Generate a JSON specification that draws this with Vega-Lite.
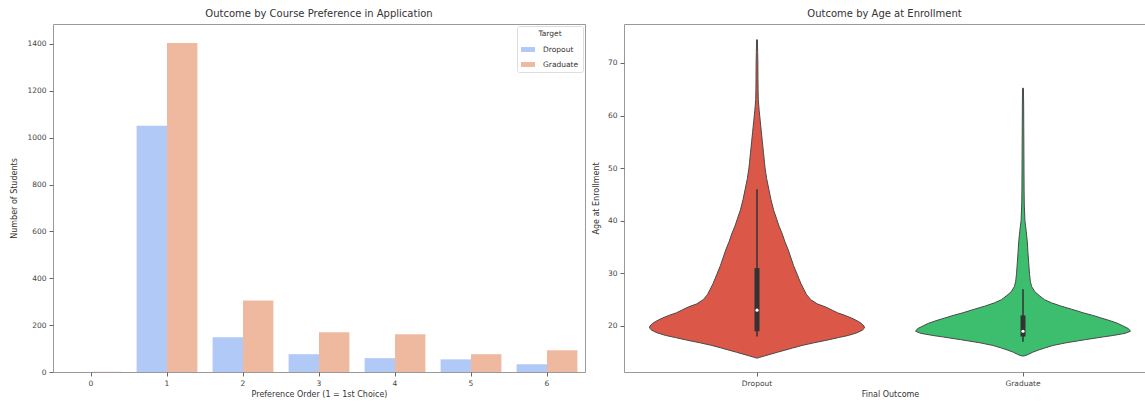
{
  "$schema": "https://vega.github.io/schema/vega-lite/v6.json",
  "padding": {"left": 10, "top": 8, "right": 0, "bottom": 0},
  "background": "white",
  "config": {
    "font": "DejaVu Sans",
    "view": {"stroke": "#999", "strokeWidth": 1},
    "axis": {"labelFont": "DejaVu Sans", "titleFont": "DejaVu Sans", "labelFontSize": 7.5, "titleFontSize": 8, "titleFontWeight": "normal", "labelColor": "#444", "titleColor": "#333", "tickColor": "#666", "domain": false, "tickSize": 4, "labelPadding": 3, "grid": false},
    "title": {"fontSize": 10, "fontWeight": "normal", "color": "#333", "font": "DejaVu Sans", "offset": 5},
    "legend": {"labelFont": "DejaVu Sans", "titleFont": "DejaVu Sans"},
    "concat": {"spacing": 6}
  },
  "resolve": {"legend": {"color": "independent"}},
  "datasets": {
    "prefs": [
      {"pref": 0, "Target": "Dropout", "count": 0},
      {"pref": 0, "Target": "Graduate", "count": 1},
      {"pref": 1, "Target": "Dropout", "count": 1051},
      {"pref": 1, "Target": "Graduate", "count": 1404},
      {"pref": 2, "Target": "Dropout", "count": 148},
      {"pref": 2, "Target": "Graduate", "count": 305},
      {"pref": 3, "Target": "Dropout", "count": 76},
      {"pref": 3, "Target": "Graduate", "count": 170},
      {"pref": 4, "Target": "Dropout", "count": 59},
      {"pref": 4, "Target": "Graduate", "count": 161},
      {"pref": 5, "Target": "Dropout", "count": 54},
      {"pref": 5, "Target": "Graduate", "count": 76},
      {"pref": 6, "Target": "Dropout", "count": 33},
      {"pref": 6, "Target": "Graduate", "count": 93}
    ],
    "violin": [
      {"outcome": "Dropout", "age": 13.9, "density": 0.005},
      {"outcome": "Dropout", "age": 14.0, "density": 0.02},
      {"outcome": "Dropout", "age": 14.3, "density": 0.07},
      {"outcome": "Dropout", "age": 14.6, "density": 0.12},
      {"outcome": "Dropout", "age": 15.0, "density": 0.19},
      {"outcome": "Dropout", "age": 15.4, "density": 0.26},
      {"outcome": "Dropout", "age": 15.8, "density": 0.33},
      {"outcome": "Dropout", "age": 16.3, "density": 0.42},
      {"outcome": "Dropout", "age": 16.8, "density": 0.53},
      {"outcome": "Dropout", "age": 17.3, "density": 0.65},
      {"outcome": "Dropout", "age": 17.8, "density": 0.76},
      {"outcome": "Dropout", "age": 18.2, "density": 0.85},
      {"outcome": "Dropout", "age": 18.7, "density": 0.93},
      {"outcome": "Dropout", "age": 19.2, "density": 0.98},
      {"outcome": "Dropout", "age": 19.6, "density": 1.0},
      {"outcome": "Dropout", "age": 20.0, "density": 0.995},
      {"outcome": "Dropout", "age": 20.5, "density": 0.97},
      {"outcome": "Dropout", "age": 21.0, "density": 0.93},
      {"outcome": "Dropout", "age": 21.5, "density": 0.88},
      {"outcome": "Dropout", "age": 22.0, "density": 0.82},
      {"outcome": "Dropout", "age": 22.5, "density": 0.75},
      {"outcome": "Dropout", "age": 23.0, "density": 0.70},
      {"outcome": "Dropout", "age": 23.6, "density": 0.64},
      {"outcome": "Dropout", "age": 24.2, "density": 0.56},
      {"outcome": "Dropout", "age": 25.0, "density": 0.50},
      {"outcome": "Dropout", "age": 26.0, "density": 0.46},
      {"outcome": "Dropout", "age": 27.0, "density": 0.435},
      {"outcome": "Dropout", "age": 28.0, "density": 0.41},
      {"outcome": "Dropout", "age": 29.0, "density": 0.39},
      {"outcome": "Dropout", "age": 30.0, "density": 0.37},
      {"outcome": "Dropout", "age": 31.5, "density": 0.34},
      {"outcome": "Dropout", "age": 33.0, "density": 0.315},
      {"outcome": "Dropout", "age": 34.5, "density": 0.29},
      {"outcome": "Dropout", "age": 36.0, "density": 0.26},
      {"outcome": "Dropout", "age": 37.5, "density": 0.235},
      {"outcome": "Dropout", "age": 39.0, "density": 0.205},
      {"outcome": "Dropout", "age": 40.5, "density": 0.18},
      {"outcome": "Dropout", "age": 42.0, "density": 0.155},
      {"outcome": "Dropout", "age": 44.0, "density": 0.13},
      {"outcome": "Dropout", "age": 46.0, "density": 0.11},
      {"outcome": "Dropout", "age": 48.0, "density": 0.09},
      {"outcome": "Dropout", "age": 50.0, "density": 0.075},
      {"outcome": "Dropout", "age": 51.0, "density": 0.07},
      {"outcome": "Dropout", "age": 53.0, "density": 0.06},
      {"outcome": "Dropout", "age": 55.0, "density": 0.05},
      {"outcome": "Dropout", "age": 57.0, "density": 0.04},
      {"outcome": "Dropout", "age": 59.0, "density": 0.03},
      {"outcome": "Dropout", "age": 61.0, "density": 0.02},
      {"outcome": "Dropout", "age": 63.0, "density": 0.012},
      {"outcome": "Dropout", "age": 65.0, "density": 0.01},
      {"outcome": "Dropout", "age": 67.0, "density": 0.009},
      {"outcome": "Dropout", "age": 70.0, "density": 0.008},
      {"outcome": "Dropout", "age": 72.0, "density": 0.006},
      {"outcome": "Dropout", "age": 74.4, "density": 0.004},
      {"outcome": "Graduate", "age": 14.3, "density": 0.01},
      {"outcome": "Graduate", "age": 14.6, "density": 0.05},
      {"outcome": "Graduate", "age": 15.0, "density": 0.09},
      {"outcome": "Graduate", "age": 15.4, "density": 0.14},
      {"outcome": "Graduate", "age": 15.8, "density": 0.20},
      {"outcome": "Graduate", "age": 16.3, "density": 0.28},
      {"outcome": "Graduate", "age": 16.8, "density": 0.40},
      {"outcome": "Graduate", "age": 17.4, "density": 0.58},
      {"outcome": "Graduate", "age": 17.9, "density": 0.74},
      {"outcome": "Graduate", "age": 18.2, "density": 0.84},
      {"outcome": "Graduate", "age": 18.6, "density": 0.95},
      {"outcome": "Graduate", "age": 19.0, "density": 1.0},
      {"outcome": "Graduate", "age": 19.5, "density": 0.98},
      {"outcome": "Graduate", "age": 20.0, "density": 0.93},
      {"outcome": "Graduate", "age": 20.5, "density": 0.88},
      {"outcome": "Graduate", "age": 21.0, "density": 0.81},
      {"outcome": "Graduate", "age": 21.5, "density": 0.73},
      {"outcome": "Graduate", "age": 22.0, "density": 0.65},
      {"outcome": "Graduate", "age": 22.5, "density": 0.56},
      {"outcome": "Graduate", "age": 23.2, "density": 0.45},
      {"outcome": "Graduate", "age": 23.8, "density": 0.35},
      {"outcome": "Graduate", "age": 24.4, "density": 0.265},
      {"outcome": "Graduate", "age": 25.0, "density": 0.20},
      {"outcome": "Graduate", "age": 25.8, "density": 0.15},
      {"outcome": "Graduate", "age": 26.5, "density": 0.11},
      {"outcome": "Graduate", "age": 27.5, "density": 0.08},
      {"outcome": "Graduate", "age": 28.5, "density": 0.068},
      {"outcome": "Graduate", "age": 30.0, "density": 0.06},
      {"outcome": "Graduate", "age": 32.0, "density": 0.053},
      {"outcome": "Graduate", "age": 34.0, "density": 0.046},
      {"outcome": "Graduate", "age": 36.0, "density": 0.04},
      {"outcome": "Graduate", "age": 38.0, "density": 0.03},
      {"outcome": "Graduate", "age": 40.0, "density": 0.018},
      {"outcome": "Graduate", "age": 43.0, "density": 0.012},
      {"outcome": "Graduate", "age": 46.0, "density": 0.010},
      {"outcome": "Graduate", "age": 50.0, "density": 0.009},
      {"outcome": "Graduate", "age": 54.0, "density": 0.008},
      {"outcome": "Graduate", "age": 58.0, "density": 0.007},
      {"outcome": "Graduate", "age": 62.0, "density": 0.006},
      {"outcome": "Graduate", "age": 65.2, "density": 0.004}
    ],
    "box": [
      {"outcome": "Dropout", "lower": 18, "q1": 19, "median": 23, "q3": 31, "upper": 46},
      {"outcome": "Graduate", "lower": 17, "q1": 18, "median": 19, "q3": 22, "upper": 27}
    ]
  },
  "hconcat": [
    {
      "title": "Outcome by Course Preference in Application",
      "width": 532,
      "height": 348,
      "data": {"name": "prefs"},
      "mark": {"type": "bar"},
      "encoding": {
        "x": {"field": "pref", "type": "ordinal", "title": "Preference Order (1 = 1st Choice)",
              "scale": {"paddingInner": 0.2, "paddingOuter": 0.1},
              "axis": {"labelAngle": 0, "titlePadding": 4}},
        "xOffset": {"field": "Target", "type": "nominal", "scale": {"paddingInner": 0, "paddingOuter": 0}},
        "y": {"field": "count", "type": "quantitative", "title": "Number of Students",
              "scale": {"domain": [0, 1485], "nice": false},
              "axis": {"values": [0, 200, 400, 600, 800, 1000, 1200, 1400], "format": "d", "titlePadding": 8}},
        "color": {"field": "Target", "type": "nominal",
                  "scale": {"domain": ["Dropout", "Graduate"], "range": ["#b0c9f6", "#efb9a0"]},
                  "legend": {"orient": "top-right", "offset": 2, "title": "Target", "titleAnchor": "middle",
                             "fillColor": "white", "strokeColor": "#ddd", "padding": 4, "cornerRadius": 2,
                             "titleFontSize": 7.5, "titleFontWeight": "normal", "titleColor": "#333",
                             "labelFontSize": 7.5, "labelColor": "#333",
                             "symbolType": "M-1,-0.35H1V0.35H-1Z", "symbolSize": 196, "symbolStrokeWidth": 0,
                             "rowPadding": 4, "labelOffset": 8}}
      }
    },
    {
      "title": "Outcome by Age at Enrollment",
      "width": 521,
      "height": 348,
      "layer": [
        {
          "data": {"name": "violin"},
          "transform": [{"filter": "datum.outcome === 'Dropout'"}],
          "mark": {"type": "area", "orient": "horizontal", "color": "#db5747", "stroke": "#4a4a4a", "strokeWidth": 1},
          "encoding": {
            "y": {"field": "age", "type": "quantitative", "title": "Age at Enrollment",
                  "scale": {"domain": [11.25, 77.4], "nice": false, "zero": false},
                  "axis": {"values": [20, 30, 40, 50, 60, 70], "titlePadding": 6.5}},
            "x": {"field": "density", "type": "quantitative", "stack": "center", "impute": null,
                  "scale": {"domain": [-0.1186, 2.3047], "nice": false, "zero": false}, "axis": null}
          }
        },
        {
          "data": {"name": "violin"},
          "transform": [{"filter": "datum.outcome === 'Graduate'"}],
          "mark": {"type": "area", "orient": "horizontal", "color": "#3dbd6e", "stroke": "#4a4a4a", "strokeWidth": 1},
          "encoding": {
            "y": {"field": "age", "type": "quantitative", "title": "Age at Enrollment",
                  "scale": {"domain": [11.25, 77.4], "nice": false, "zero": false}},
            "x": {"field": "density", "type": "quantitative", "stack": "center", "impute": null,
                  "scale": {"domain": [-1.3558, 1.0674], "nice": false, "zero": false}, "axis": null}
          }
        },
        {
          "data": {"name": "box"},
          "encoding": {
            "x": {"field": "outcome", "type": "nominal", "title": "Final Outcome",
                  "scale": {"domain": ["Dropout", "Graduate"], "range": [0, 532], "paddingInner": 0, "paddingOuter": 0},
                  "axis": {"labelAngle": 0, "titlePadding": 4}}
          },
          "layer": [
            {
              "mark": {"type": "rule", "color": "#333", "strokeWidth": 1.5},
              "encoding": {
                "y": {"field": "lower", "type": "quantitative", "title": "Age at Enrollment",
                      "scale": {"domain": [11.25, 77.4], "nice": false, "zero": false}},
                "y2": {"field": "upper"}
              }
            },
            {
              "mark": {"type": "rule", "color": "#333", "strokeWidth": 5},
              "encoding": {
                "y": {"field": "q1", "type": "quantitative", "title": "Age at Enrollment",
                      "scale": {"domain": [11.25, 77.4], "nice": false, "zero": false}},
                "y2": {"field": "q3"}
              }
            },
            {
              "mark": {"type": "point", "filled": true, "color": "white", "size": 10, "opacity": 1},
              "encoding": {
                "y": {"field": "median", "type": "quantitative", "title": "Age at Enrollment",
                      "scale": {"domain": [11.25, 77.4], "nice": false, "zero": false}}
              }
            }
          ]
        }
      ],
      "resolve": {"scale": {"x": "independent"}}
    }
  ]
}
